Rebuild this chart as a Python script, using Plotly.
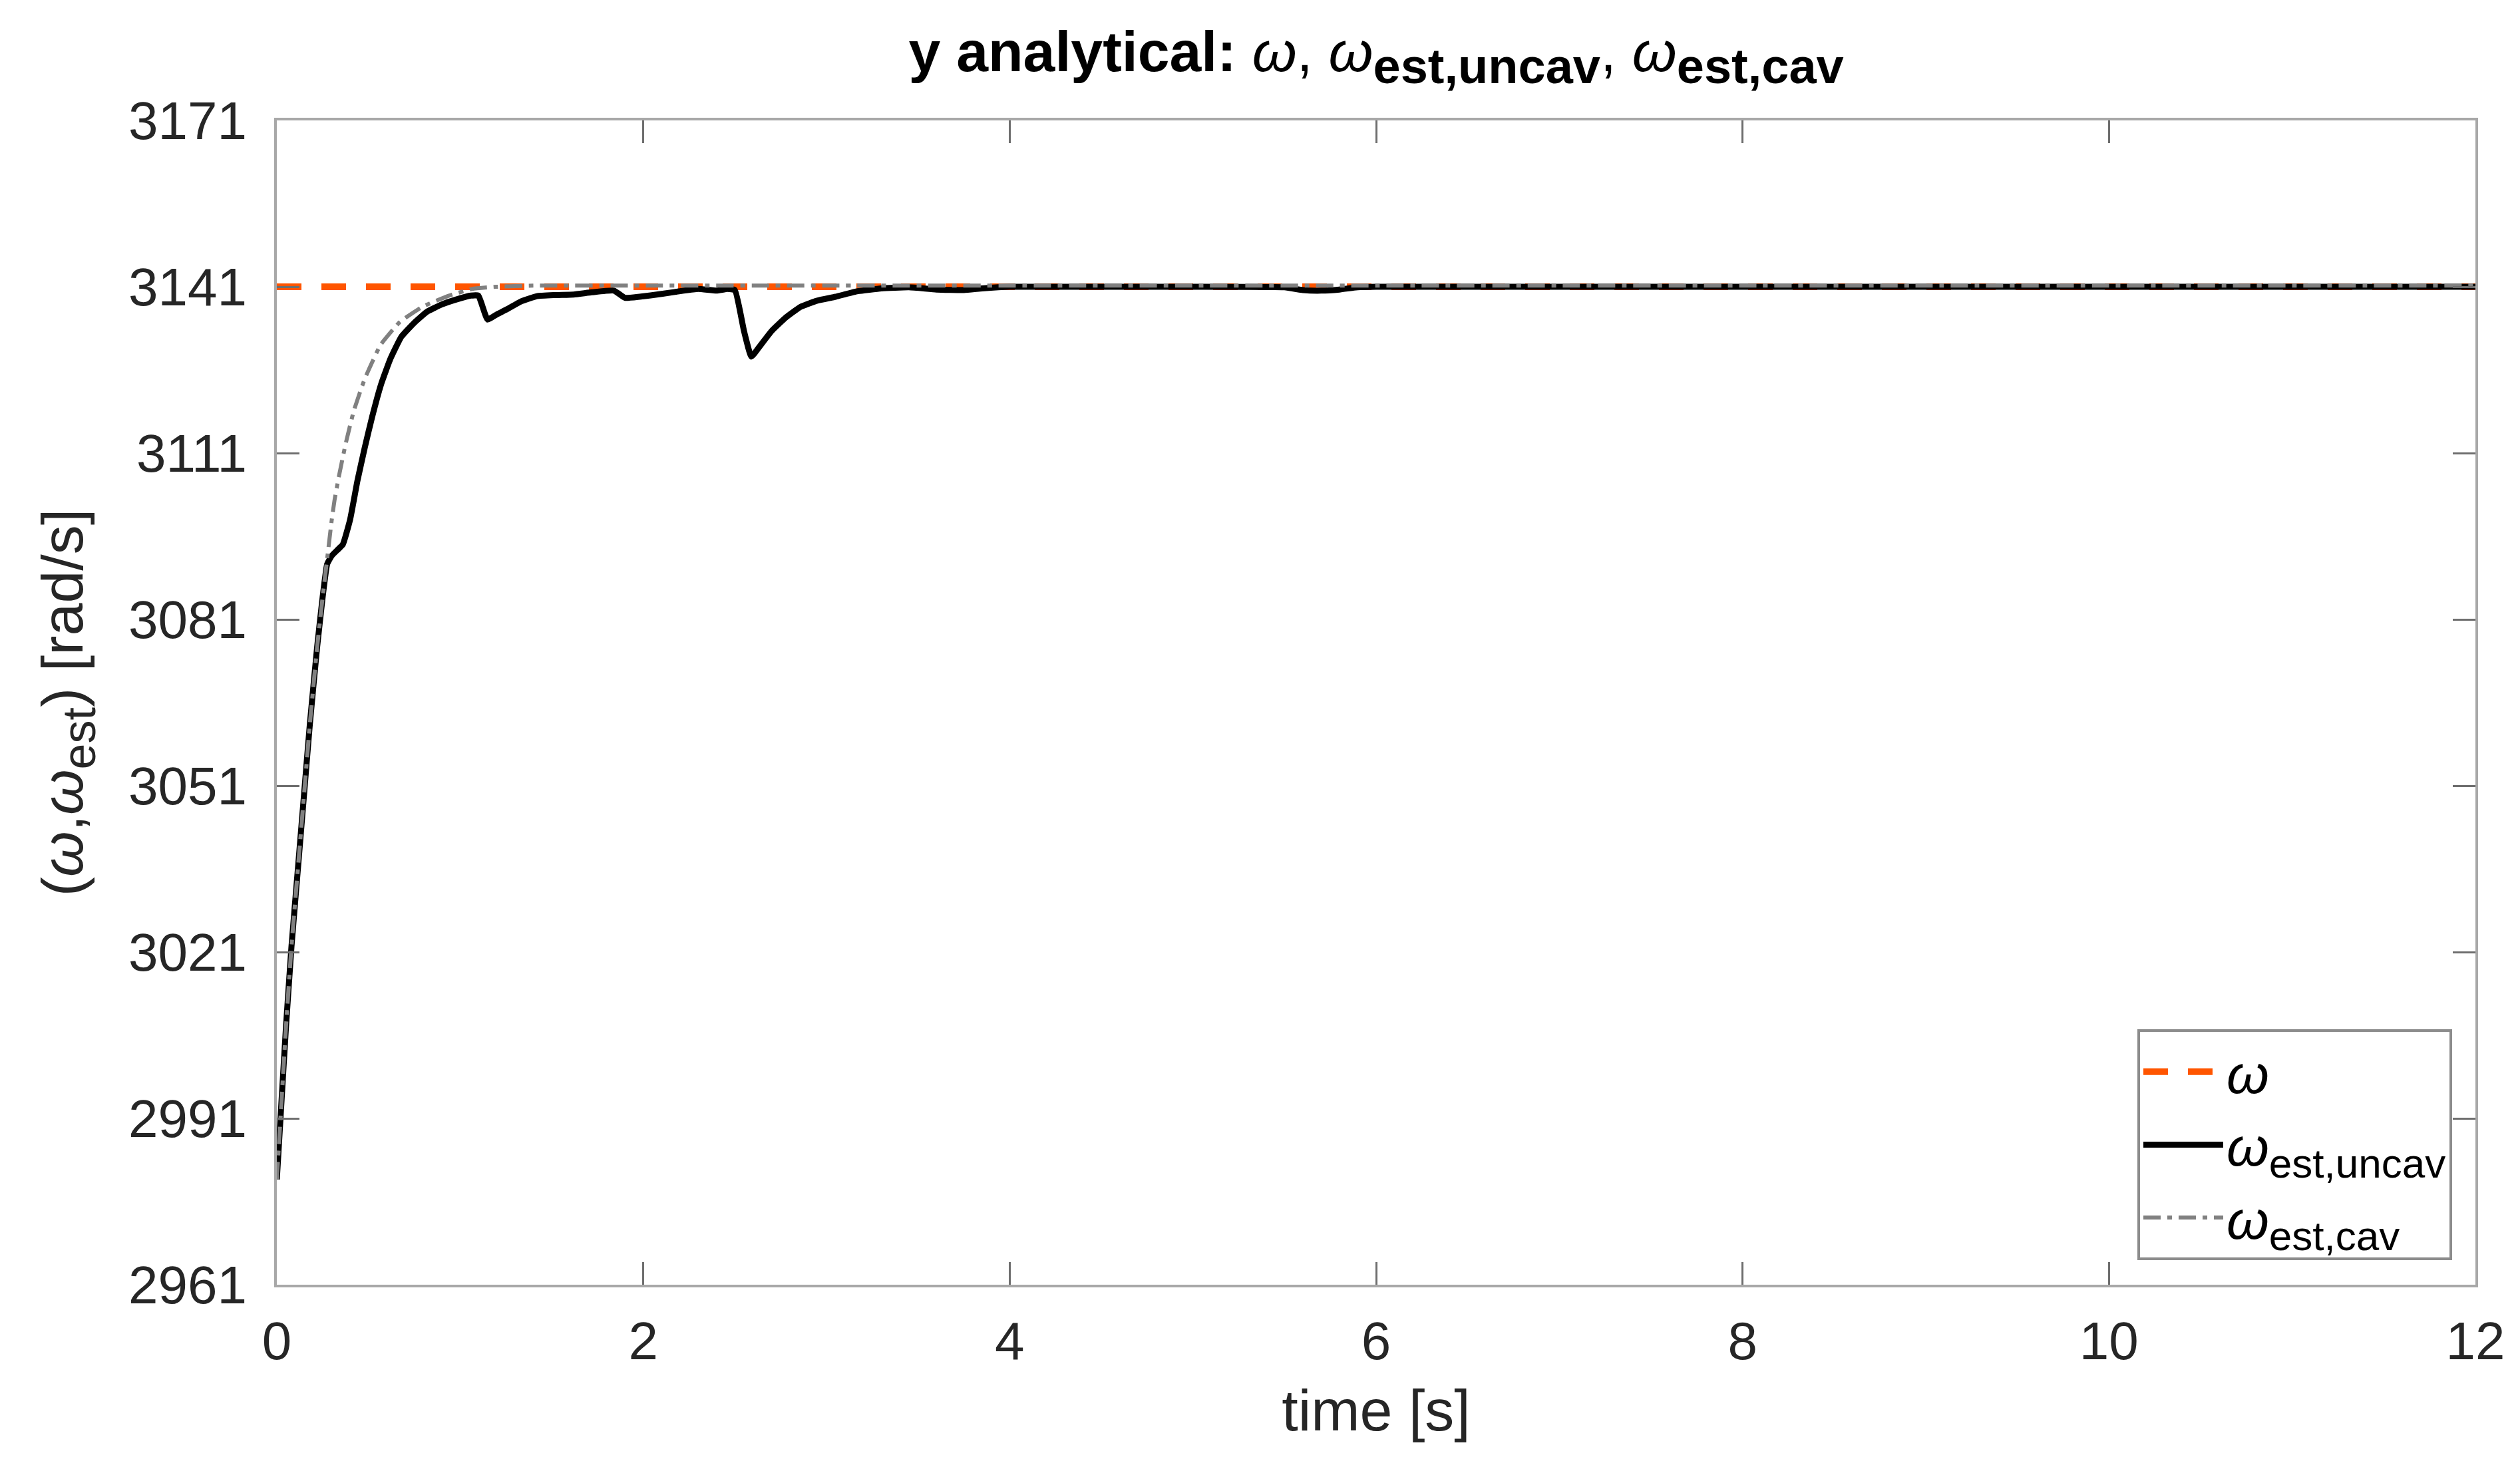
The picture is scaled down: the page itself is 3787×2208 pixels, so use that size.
import plotly.graph_objects as go

# reference speed and time span
t_ref = [0, 12]
w_ref = [3141, 3141]

# estimated speed, uncavitated model
t_uncav = [0, 0.02, 0.05, 0.08, 0.12, 0.15, 0.18, 0.22, 0.25, 0.275, 0.30, 0.33,
           0.36, 0.40, 0.44, 0.48, 0.52, 0.57, 0.62, 0.68, 0.75, 0.82, 0.90, 0.98,
           1.06, 1.10, 1.15, 1.20, 1.26, 1.33, 1.42, 1.52, 1.62, 1.72, 1.84, 1.90,
           1.98, 2.10, 2.22, 2.30, 2.40, 2.46, 2.50, 2.55, 2.59, 2.63, 2.70, 2.78,
           2.86, 2.95, 3.05, 3.17, 3.30, 3.45, 3.60, 3.75, 3.85, 4.0, 4.3, 4.6, 5.0,
           5.5, 5.6, 5.7, 5.8, 5.9, 6.0, 7, 8, 9, 10, 11, 12]
w_uncav = [2980, 2991, 3007.5, 3022, 3038, 3050, 3062, 3076, 3085, 3091, 3092.5, 3093.5,
           3094.5, 3099, 3106, 3112, 3117.5, 3123.5, 3128, 3132, 3134.5, 3136.5, 3137.8, 3138.7,
           3139.4, 3139.4, 3135.1, 3136, 3137, 3138.3, 3139.3, 3139.5, 3139.6, 3140, 3140.3, 3139,
           3139.2, 3139.7, 3140.3, 3140.6, 3140.3, 3140.6, 3140.4, 3133, 3128.4, 3130, 3133, 3135.5,
           3137.4, 3138.5, 3139.2, 3140.2, 3140.7, 3140.9, 3140.5, 3140.4, 3140.7, 3141, 3141, 3141, 3141,
           3140.9, 3140.4, 3140.3, 3140.5, 3140.9, 3141, 3141, 3141, 3141, 3141, 3141, 3141]

# estimated speed, cavitated model
t_cav = [0, 0.02, 0.05, 0.08, 0.12, 0.15, 0.18, 0.22, 0.25, 0.275, 0.30, 0.315, 0.34,
         0.378, 0.42, 0.48, 0.566, 0.67, 0.795, 0.94, 1.066, 1.2, 1.4, 2, 3, 4, 5, 6,
         7, 8, 9, 10, 11, 12]
w_cav = [2980, 2991, 3007.5, 3022, 3038, 3050, 3062, 3076, 3085, 3092, 3099, 3102.5, 3107,
         3113, 3118.6, 3124.4, 3130.5, 3134.6, 3137.4, 3139.4, 3140.6, 3141, 3141.2, 3141.2, 3141.2,
         3141.2, 3141.2, 3141.2, 3141.2, 3141.2, 3141.2, 3141.2, 3141.2, 3141.2]

y_ticks = [2961, 2991, 3021, 3051, 3081, 3111, 3141, 3171]
x_ticks = [0, 2, 4, 6, 8, 10, 12]

FONT = "Liberation Sans, Arial, Helvetica, sans-serif"
SUB = '<sub><span style="font-size:62px">{}</span></sub>'

fig = go.Figure()
fig.add_trace(go.Scatter(x=t_ref, y=w_ref, mode="lines", name="<i>ω</i>",
                         line=dict(color="#FF5500", width=10, dash="37px,30px")))
fig.add_trace(go.Scatter(x=t_uncav, y=w_uncav, mode="lines",
                         name="<i>ω</i>" + SUB.format("est,uncav"),
                         line=dict(color="#000000", width=9, shape="spline", smoothing=0.4)))
fig.add_trace(go.Scatter(x=t_cav, y=w_cav, mode="lines",
                         name="<i>ω</i>" + SUB.format("est,cav"),
                         line=dict(color="#808080", width=6, dash="26px,10px,7px,10px",
                                   shape="spline", smoothing=0.4)))

title = ("<b>y analytical: </b><i>ω</i>, <i>ω</i>"
         '<sub><span style="font-size:74px"><b>est,uncav</b></span></sub>, <i>ω</i>'
         '<sub><span style="font-size:74px"><b>est,cav</b></span></sub>')

axis_common = dict(showline=True, linecolor="#A8A8A8", linewidth=4, mirror="ticks",
                   ticks="inside", ticklen=34, tickwidth=3, tickcolor="#6E6E6E",
                   showgrid=False, zeroline=False,
                   tickfont=dict(family=FONT, size=80, color="#262626"))

fig.update_layout(
    width=3787, height=2208,
    paper_bgcolor="white", plot_bgcolor="white",
    margin=dict(l=408, r=75, t=173, b=285),
    font=dict(family=FONT, color="#262626"),
    title=dict(text=title, x=0.544, xanchor="center", y=0.969, yanchor="middle",
               font=dict(family=FONT, size=86, color="#000000")),
    xaxis=dict(range=[0, 12], tickvals=x_ticks, ticklabelstandoff=12,
               title=dict(text="time [s]", font=dict(family=FONT, size=88, color="#262626"),
                          standoff=30),
               **axis_common),
    yaxis=dict(range=[2961, 3171], tickvals=y_ticks, ticklabelstandoff=25,
               title=dict(text="(<i>ω</i>,<i>ω</i>" + '<sub><span style="font-size:70px">est</span></sub>'
                               + ") [rad/s]",
                          font=dict(family=FONT, size=88, color="#262626"), standoff=40),
               **axis_common),
    legend=dict(x=0.9894, y=0.0211, xanchor="right", yanchor="bottom",
                bgcolor="white", bordercolor="#8C8C8C", borderwidth=4,
                font=dict(family=FONT, size=82, color="#000000"),
                itemwidth=120, tracegroupgap=0),
    showlegend=True,
)

fig.write_html("out.html")
